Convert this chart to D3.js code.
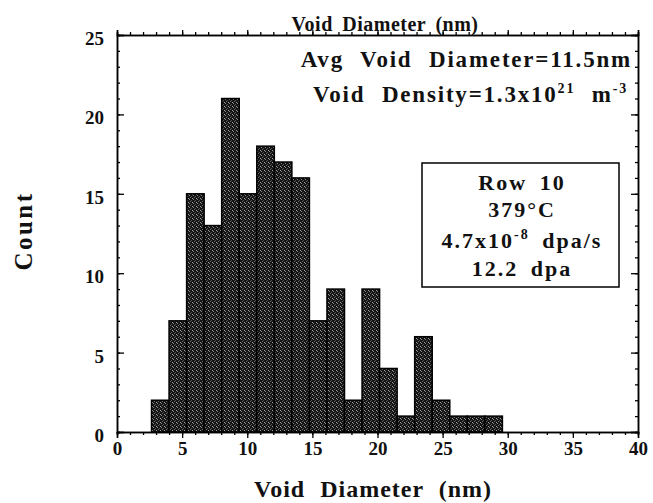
<!DOCTYPE html>
<html>
<head>
<meta charset="utf-8">
<script src="https://cdn.jsdelivr.net/npm/d3@7"></script>
<style>
  body { margin: 0; background: #fff; }
  svg text { font-family: "Liberation Serif", "Times New Roman", serif; font-weight: bold; fill: #111; }
</style>
</head>
<body>
<div id="chart"></div>
<script>
// histogram bins (void diameter, nm)
var binStart = 2.65
var binWidth = 1.347
var counts = [2, 7, 15, 13, 21, 15, 18, 17, 16, 7, 9, 2, 9, 4, 1, 6, 2, 1, 1, 1]
var xTicks = [0, 5, 10, 15, 20, 25, 30, 35, 40]
var yTicks = [0, 5, 10, 15, 20, 25]
var infoLines = ['Row 10', '379°C', '4.7x10|-8| dpa/s', '12.2 dpa']

var width = 653, height = 503
var margin = { top: 35, right: 15, bottom: 71, left: 117 }
var w = width - margin.left - margin.right
var h = height - margin.top - margin.bottom

var svg = d3.select('#chart').append('svg')
  .attr('width', width)
  .attr('height', height)

// stipple texture like the scanned bars
var defs = svg.append('defs')
var pat = defs.append('pattern')
  .attr('id', 'stipple')
  .attr('width', 4).attr('height', 4)
  .attr('patternUnits', 'userSpaceOnUse')
pat.append('rect').attr('width', 4).attr('height', 4).attr('fill', '#141414')
pat.append('rect').attr('x', 0).attr('y', 0).attr('width', 1).attr('height', 1).attr('fill', '#8a8a8a')
pat.append('rect').attr('x', 2).attr('y', 1).attr('width', 1).attr('height', 1).attr('fill', '#555')
pat.append('rect').attr('x', 1).attr('y', 2).attr('width', 1).attr('height', 1).attr('fill', '#6a6a6a')
pat.append('rect').attr('x', 3).attr('y', 3).attr('width', 1).attr('height', 1).attr('fill', '#a0a0a0')

var g = svg.append('g')
  .attr('transform', 'translate(' + margin.left + ',' + margin.top + ')')

var x = d3.scaleLinear().domain([0, 40]).range([0, w])
var y = d3.scaleLinear().domain([0, 25]).range([h, 0])

// bars
var bins = counts.map(function (c, i) {
  return { x0: binStart + i * binWidth, x1: binStart + (i + 1) * binWidth, count: c }
})
g.append('g').selectAll('rect')
  .data(bins)
  .enter().append('rect')
  .attr('x', function (d) { return x(d.x0) })
  .attr('y', function (d) { return y(d.count) })
  .attr('width', function (d) { return x(d.x1) - x(d.x0) })
  .attr('height', function (d) { return h - y(d.count) })
  .attr('fill', 'url(#stipple)')
  .attr('stroke', '#000')
  .attr('stroke-width', 1.5)

// axes: major + minor ticks
function styleAxis (sel) {
  sel.select('.domain').attr('stroke', '#000').attr('stroke-width', 1.5)
  sel.selectAll('.tick line').attr('stroke', '#000').attr('stroke-width', 1.3)
}

var minorX = d3.range(0, 41)
var minorY = d3.range(0, 26)

// bottom
g.append('g')
  .attr('transform', 'translate(0,' + h + ')')
  .call(d3.axisBottom(x).tickValues(minorX).tickSize(3).tickFormat(''))
  .call(styleAxis)
var bx = g.append('g')
  .attr('transform', 'translate(0,' + h + ')')
  .call(d3.axisBottom(x).tickValues(xTicks).tickSize(6).tickPadding(4))
  .call(styleAxis)
bx.selectAll('.tick text').attr('font-size', 19).style('font-family', '"Liberation Serif", serif')

// top
g.append('g')
  .call(d3.axisTop(x).tickValues(minorX).tickSize(3).tickFormat(''))
  .call(styleAxis)
g.append('g')
  .call(d3.axisTop(x).tickValues(xTicks).tickSize(5).tickFormat(''))
  .call(styleAxis)

// left (ticks inward)
g.append('g')
  .call(d3.axisLeft(y).tickValues(minorY).tickSize(-3).tickFormat(''))
  .call(styleAxis)
var ly = g.append('g')
  .call(d3.axisLeft(y).tickValues(yTicks).tickSize(-7))
  .call(styleAxis)
ly.selectAll('.tick text').attr('font-size', 19).attr('x', -13).attr('dy', '0.5em')
  .style('font-family', '"Liberation Serif", serif')

// right (ticks inward)
g.append('g')
  .attr('transform', 'translate(' + w + ',0)')
  .call(d3.axisRight(y).tickValues(minorY).tickSize(-3).tickFormat(''))
  .call(styleAxis)
g.append('g')
  .attr('transform', 'translate(' + w + ',0)')
  .call(d3.axisRight(y).tickValues(yTicks).tickSize(-7).tickFormat(''))
  .call(styleAxis)

// titles
svg.append('text')
  .attr('x', 385).attr('y', 31)
  .attr('text-anchor', 'middle')
  .attr('font-size', 20)
  .attr('letter-spacing', 0.5)
  .attr('word-spacing', 4)
  .text('Void Diameter (nm)')

svg.append('text')
  .attr('x', 373).attr('y', 497)
  .attr('text-anchor', 'middle')
  .attr('font-size', 24)
  .attr('letter-spacing', 1)
  .attr('word-spacing', 8)
  .text('Void Diameter (nm)')

svg.append('text')
  .attr('transform', 'translate(32,231) rotate(-90)')
  .attr('text-anchor', 'middle')
  .attr('font-size', 25)
  .attr('letter-spacing', 2.5)
  .text('Count')

// annotations
svg.append('text')
  .attr('x', 632).attr('y', 67)
  .attr('text-anchor', 'end')
  .attr('font-size', 23)
  .attr('letter-spacing', 1.8)
  .attr('word-spacing', 9)
  .text('Avg Void Diameter=11.5nm')

var dens = svg.append('text')
  .attr('x', 628).attr('y', 102)
  .attr('text-anchor', 'end')
  .attr('font-size', 23)
  .attr('letter-spacing', 1.8)
  .attr('word-spacing', 9)
dens.append('tspan').text('Void Density=1.3x10')
dens.append('tspan').attr('font-size', 14).attr('dy', -9).text('21')
dens.append('tspan').attr('dy', 9).text(' m')
dens.append('tspan').attr('font-size', 14).attr('dy', -9).text('-3')

// info box
svg.append('rect')
  .attr('x', 422).attr('y', 163)
  .attr('width', 197).attr('height', 124)
  .attr('fill', '#fff')
  .attr('stroke', '#000')
  .attr('stroke-width', 1.5)

var baselines = [190, 217, 248, 276]
infoLines.forEach(function (line, i) {
  var t = svg.append('text')
    .attr('x', 522).attr('y', baselines[i])
    .attr('text-anchor', 'middle')
    .attr('font-size', 22)
    .attr('letter-spacing', 2)
    .attr('word-spacing', 5)
  var parts = line.split('|')
  parts.forEach(function (p, j) {
    var ts = t.append('tspan').text(p)
    if (j % 2 === 1) ts.attr('font-size', 14).attr('dy', -9)
    else if (j > 0) ts.attr('dy', 9)
  })
})
</script>
</body>
</html>
